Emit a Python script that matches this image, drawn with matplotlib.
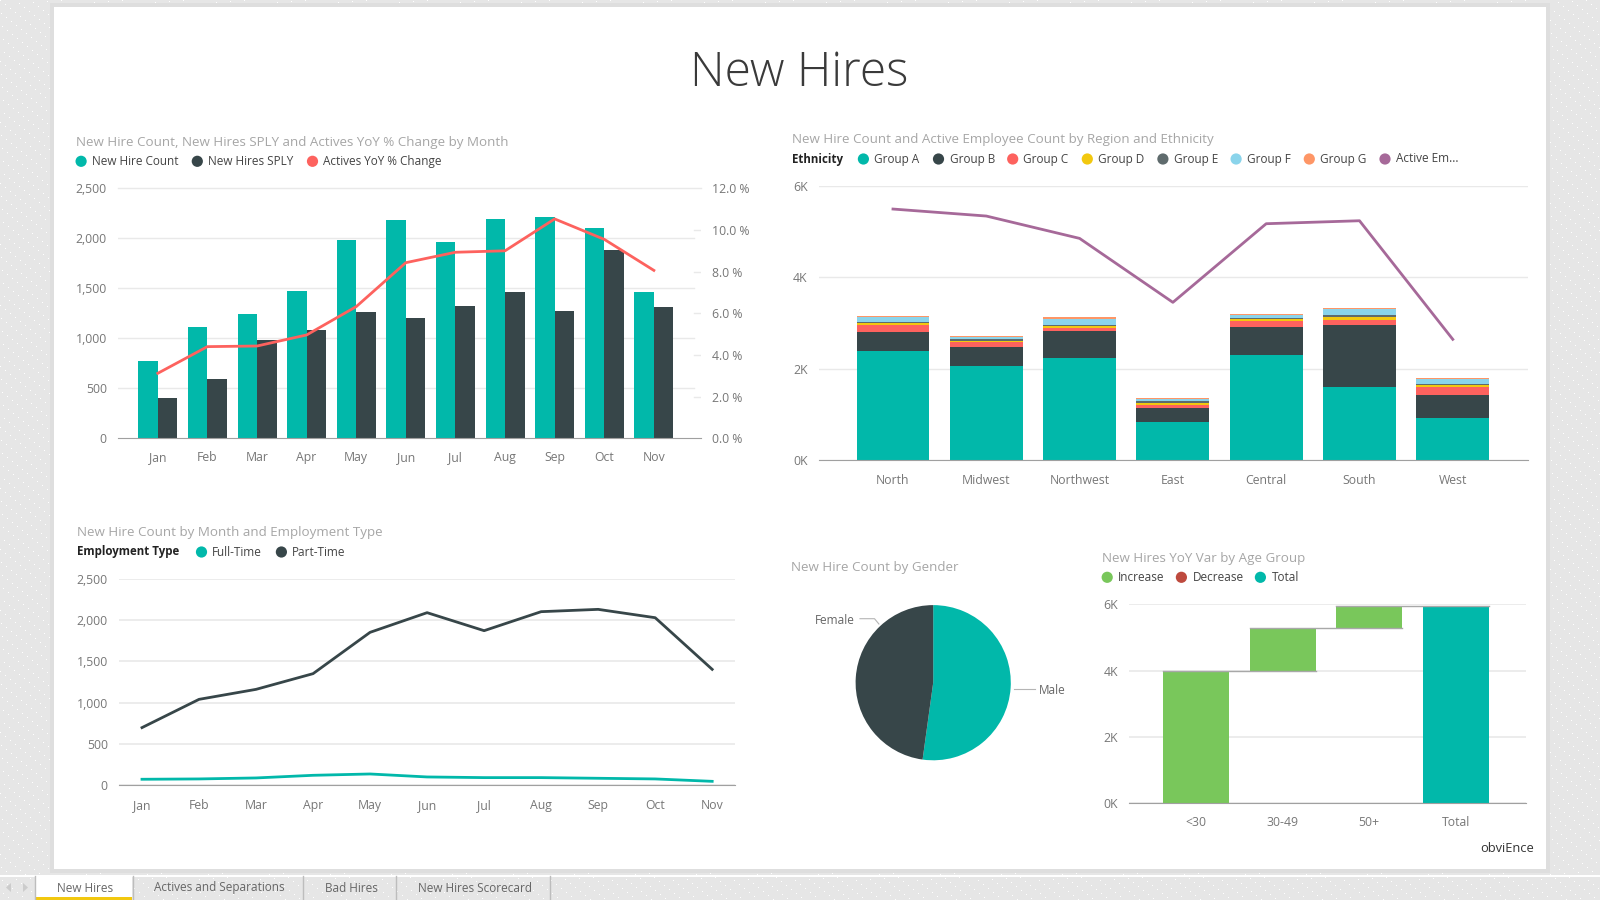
import numpy as np
import matplotlib
matplotlib.use("Agg")
import matplotlib.pyplot as plt
from matplotlib.patches import Rectangle, Circle, Polygon
from matplotlib.ticker import FuncFormatter

plt.rcParams['font.family'] = ['Open Sans', 'DejaVu Sans']

# ---------- data ----------
months = ['Jan', 'Feb', 'Mar', 'Apr', 'May', 'Jun', 'Jul', 'Aug', 'Sep', 'Oct', 'Nov']
new_hire_count = [775, 1115, 1245, 1475, 1985, 2185, 1960, 2190, 2210, 2100, 1460]
new_hires_sply = [400, 590, 985, 1085, 1260, 1205, 1320, 1465, 1275, 1885, 1310]
actives_yoy = [3.12, 4.40, 4.43, 4.96, 6.32, 8.43, 8.93, 9.00, 10.53, 9.55, 8.06]

regions = ['North', 'Midwest', 'Northwest', 'East', 'Central', 'South', 'West']
group_a = [2390, 2063, 2245, 838, 2296, 1603, 933]
group_b = [416, 408, 590, 314, 612, 1363, 503]
group_c = [160, 117, 58, 58, 139, 102, 167]
group_d = [29, 29, 52, 51, 36, 73, 44]
group_e = [37, 29, 21, 44, 29, 37, 29]
group_f = [102, 44, 131, 29, 58, 124, 95]
group_g = [22, 29, 30, 22, 30, 29, 29]
active_emp = [5496, 5343, 4854, 3455, 5175, 5240, 2646]
group_names = ['Group A', 'Group B', 'Group C', 'Group D', 'Group E', 'Group F', 'Group G']

full_time = [73, 77, 89, 121, 137, 101, 93, 93, 85, 77, 48]
part_time = [698, 1040, 1161, 1351, 1851, 2089, 1871, 2101, 2129, 2028, 1403]

gender = ['Male', 'Female']
gender_count = [3105, 2845]

age_groups = ['<30', '30-49', '50+', 'Total']
age_var = [3990, 1286, 664]

tabs = ['New Hires', 'Actives and Separations', 'Bad Hires', 'New Hires Scorecard']

# ---------- colours ----------
TEAL, DARK, RED, YEL, GREY, BLUE, ORG, PUR = ('#01B8AA', '#374649', '#FD625E', '#F2C80F',
                                              '#5F6B6D', '#8AD4EB', '#FE9666', '#A66999')
GREEN, DECR = '#79C75B', '#BE4A3E'
TITLEC, TICKC, LEGC, GRID, AXIS = '#A6A6A6', '#777777', '#444444', '#E9E9E9', '#A0A0A0'
SZ_T, SZ_L, SZ_K = 9.65, 8.5, 8.8


def axes_px(fig, x0, y0, x1, y1, **kw):
    return fig.add_axes([x0 / 1600, 1 - y1 / 900, (x1 - x0) / 1600, (y1 - y0) / 900], **kw)


fig = plt.figure(figsize=(16, 9), dpi=100, facecolor='#E6E6E6')

# page layer, in pixel coordinates
bg = fig.add_axes([0, 0, 1, 1])
bg.set_xlim(0, 1600)
bg.set_ylim(900, 0)
bg.axis('off')
yy, xx = np.mgrid[0:900, 0:1600]
tex = np.full((900, 1600), 0.902)
tex[((xx * 37 + yy * 91) % 61 == 0)] = 1.0
bg.imshow(tex, cmap='gray', vmin=0, vmax=1, extent=(0, 1600, 900, 0), aspect='auto', interpolation='nearest')
bg.add_patch(Rectangle((50, 3), 1500, 870, fc='#DEDEDE', ec='none'))
bg.add_patch(Rectangle((54, 7), 1492, 862, fc='white', ec='none'))
bg.add_patch(Rectangle((0, 875), 1600, 1.5, fc='white', ec='none'))

# tab strip
seps = [34.5, 132.5, 303, 396, 550]
bg.add_patch(Rectangle((35, 876), 97, 24, fc='white', ec='none'))
bg.add_patch(Rectangle((35, 896.5), 97, 3.5, fc=YEL, ec='none'))
for s in seps:
    bg.plot([s, s], [876, 900], color='#BDBDBD', lw=1)
for i, t in enumerate(tabs):
    bg.text((seps[i] + seps[i + 1]) / 2 + 1.5, 888, t, ha='center', va='center', fontsize=8.5, color='#666666')
bg.add_patch(Polygon([[11, 883], [11, 892], [6, 887.5]], fc='#CCCCCC', ec='none'))
bg.add_patch(Polygon([[23, 883], [23, 892], [28, 887.5]], fc='#CCCCCC', ec='none'))

bg.text(799.5, 74, 'New Hires', ha='center', va='center', fontsize=34.5, weight='light', color='#3A3A3A')
bg.text(1533.8, 848, 'obviEnce', ha='right', va='center', fontsize=9.3, color='#333333')


def legend(y, items, head=None):
    if head:
        bg.text(head[0], y, head[1], ha='left', va='center', fontsize=8.3, weight='bold', color='#222222')
    for cx, tx, lab, col in items:
        bg.add_patch(Circle((cx, y), 5.6, fc=col, ec='none'))
        bg.text(tx, y, lab, ha='left', va='center', fontsize=SZ_L, color=LEGC)


def style(ax, size=SZ_K):
    for s in ax.spines.values():
        s.set_visible(False)
    ax.spines['bottom'].set_visible(True)
    ax.spines['bottom'].set_color(AXIS)
    ax.tick_params(length=0, labelsize=size, colors=TICKC)
    ax.set_axisbelow(True)


def center_xlabels(ax, pad):
    ax.tick_params(axis='x', pad=pad)
    for t in ax.get_xticklabels():
        t.set_va('center')


comma = FuncFormatter(lambda v, _: f'{int(v):,}')
kfmt = FuncFormatter(lambda v, _: f'{int(v / 1000)}K')

# ---------- chart 1 ----------
bg.text(76.1, 142.3, 'New Hire Count, New Hires SPLY and Actives YoY % Change by Month',
        ha='left', va='center', fontsize=SZ_T, color=TITLEC)
legend(161.3, [(81.1, 92.1, 'New Hire Count', TEAL), (197.3, 208.3, 'New Hires SPLY', DARK),
               (312.5, 323.1, 'Actives YoY % Change', RED)])
ax = axes_px(fig, 118.3, 188.3, 700.5, 438.3)
ax.patch.set_alpha(0)
style(ax)
x = np.arange(len(months))
w = 0.393
ax.bar(x - w / 2, new_hire_count, w, color=TEAL)
ax.bar(x + w / 2, new_hires_sply, w, color=DARK)
ax.set_xlim(-0.796, 10.94)
ax.set_ylim(0, 2500)
ax.set_xticks(x, months)
ax.set_yticks(range(0, 2501, 500))
ax.yaxis.set_major_formatter(comma)
ax.tick_params(axis='y', pad=8.3)
center_xlabels(ax, 14)
for v in range(500, 2001, 500):
    ax.axhline(v, xmin=0, xmax=0.988, color=GRID, lw=1, zorder=0)
ax2 = ax.twinx()
ax2.patch.set_alpha(0)
style(ax2)
ax2.spines['bottom'].set_visible(False)
ax2.plot(x, actives_yoy, color=RED, lw=2, solid_joinstyle='round')
ax2.set_ylim(0, 12)
ax2.set_yticks(range(0, 13, 2))
ax2.yaxis.set_major_formatter(FuncFormatter(lambda v, _: f'{v:.1f} %'))
ax2.tick_params(axis='y', pad=8.5)
for v in range(2, 11, 2):
    ax2.axhline(v, xmin=0.988, xmax=1, color=GRID, lw=1, zorder=0)
ax2.axhline(12, color=GRID, lw=1, zorder=0, clip_on=False)

# ---------- chart 2 ----------
bg.text(792.1, 139.3, 'New Hire Count and Active Employee Count by Region and Ethnicity',
        ha='left', va='center', fontsize=SZ_T, color=TITLEC)
leg_pos = [(863.4, 874.5), (938.5, 949.7), (1012.7, 1023.3), (1087.3, 1098), (1162.9, 1173.6),
           (1236.1, 1246.8), (1309.3, 1320), (1385, 1395.6)]
leg_cols = [TEAL, DARK, RED, YEL, GREY, BLUE, ORG, PUR]
leg_labs = group_names + ['Active Em...']
legend(159, [(p[0], p[1], l, c) for p, l, c in zip(leg_pos, leg_labs, leg_cols)], head=(792.1, 'Ethnicity'))
ax = axes_px(fig, 818.8, 186, 1527.9, 460.3)
ax.patch.set_alpha(0)
style(ax)
x = np.arange(len(regions))
bottom = np.zeros(len(regions))
for vals, col in zip([group_a, group_b, group_c, group_d, group_e, group_f, group_g], leg_cols):
    ax.bar(x, vals, 0.78, bottom=bottom, color=col)
    bottom += np.array(vals)
ax.plot(x, active_emp, color=PUR, lw=2)
ax.set_xlim(-0.795, 6.805)
ax.set_ylim(0, 6000)
ax.set_xticks(x, regions)
ax.set_yticks([0, 2000, 4000, 6000])
ax.yaxis.set_major_formatter(kfmt)
ax.yaxis.grid(True, color=GRID, lw=1)
ax.tick_params(axis='y', pad=8)
center_xlabels(ax, 14.4)

# ---------- chart 3 ----------
bg.text(77, 532.3, 'New Hire Count by Month and Employment Type', ha='left', va='center', fontsize=SZ_T, color=TITLEC)
legend(552, [(201.5, 212.2, 'Full-Time', TEAL), (281.4, 292.1, 'Part-Time', DARK)], head=(77, 'Employment Type'))
ax = axes_px(fig, 118.9, 578.7, 735, 785.3)
ax.patch.set_alpha(0)
style(ax)
x = np.arange(len(months))
ax.plot(x, full_time, color=TEAL, lw=2)
ax.plot(x, part_time, color=DARK, lw=2)
ax.set_xlim(-0.405, 10.4)
ax.set_ylim(0, 2500)
ax.set_xticks(x, months)
ax.set_yticks(range(0, 2501, 500))
ax.yaxis.set_major_formatter(comma)
ax.yaxis.grid(True, color=GRID, lw=1.2)
ax.tick_params(axis='y', pad=8)
center_xlabels(ax, 14.4)

# ---------- pie ----------
bg.text(791.1, 567.3, 'New Hire Count by Gender', ha='left', va='center', fontsize=SZ_T, color=TITLEC)
ax = axes_px(fig, 855.6, 605.1, 1010.8, 760.3)
ax.patch.set_alpha(0)
ax.pie(gender_count, colors=[TEAL, DARK], startangle=90, counterclock=False, radius=1)
ax.set_xlim(-1, 1)
ax.set_ylim(-1, 1)
bg.plot([860, 874.5, 878.9], [618.7, 618.7, 624], color='#B5B5B5', lw=0.8)
bg.plot([1013.6, 1034.5], [688.7, 688.7], color='#B5B5B5', lw=0.8)
bg.text(855.1, 620, gender[1], ha='right', va='center', fontsize=SZ_L, color='#666666')
bg.text(1039.3, 690, gender[0], ha='left', va='center', fontsize=SZ_L, color='#666666')

# ---------- waterfall ----------
bg.text(1102.3, 558.3, 'New Hires YoY Var by Age Group', ha='left', va='center', fontsize=SZ_T, color=TITLEC)
legend(577.3, [(1107.2, 1117.9, 'Increase', GREEN), (1181.4, 1192.5, 'Decrease', DECR), (1260.4, 1271.5, 'Total', TEAL)])
ax = axes_px(fig, 1129, 604.3, 1525.5, 803.3)
ax.patch.set_alpha(0)
style(ax)
cum = np.cumsum(age_var)
starts = np.concatenate([[0], cum[:-1]])
bw = 0.765
x = np.arange(len(age_var))
ax.bar(x, age_var, bw, bottom=starts, color=GREEN)
ax.bar([len(age_var)], [cum[-1]], bw, color=TEAL)
for i, c in enumerate(cum):
    ax.plot([i - bw / 2, i + 1 + bw / 2], [c, c], color='#A8A8A8', lw=1, zorder=3)
ax.set_xlim(-0.775, 3.805)
ax.set_ylim(0, 6000)
ax.set_xticks(range(len(age_groups)), age_groups)
ax.set_yticks([0, 2000, 4000, 6000])
ax.yaxis.set_major_formatter(kfmt)
ax.yaxis.grid(True, color=GRID, lw=1.2)
ax.tick_params(axis='y', pad=8)
center_xlabels(ax, 13.8)

fig.savefig('out.png', dpi=100, facecolor=fig.get_facecolor())
